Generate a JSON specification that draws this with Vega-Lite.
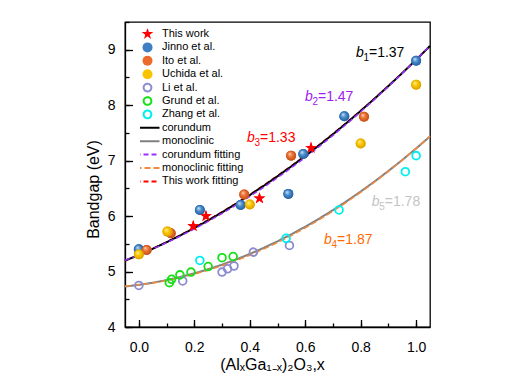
{
  "$schema": "https://vega.github.io/schema/vega-lite/v6.json",
  "width": 305,
  "height": 305,
  "autosize": "none",
  "padding": {"left": 125, "top": 22, "right": 91, "bottom": 59},
  "config": {
    "font": "Liberation Sans",
    "view": {"stroke": "#000", "strokeWidth": 1.3},
    "axis": {"domainColor": "#000", "tickColor": "#000", "labelColor": "#000", "titleColor": "#000", "grid": false, "labelFont": "Liberation Sans", "titleFont": "Liberation Sans", "titleFontWeight": "normal", "domainWidth": 1.3, "tickWidth": 1.3}
  },
  "datasets": {
    "pts": [
      {"series": "Jinno et al.", "x": 0.0, "y": 5.40},
      {"series": "Jinno et al.", "x": 0.22, "y": 6.11},
      {"series": "Jinno et al.", "x": 0.367, "y": 6.20},
      {"series": "Jinno et al.", "x": 0.539, "y": 6.40},
      {"series": "Jinno et al.", "x": 0.593, "y": 7.12},
      {"series": "Jinno et al.", "x": 0.741, "y": 7.80},
      {"series": "Jinno et al.", "x": 1.0, "y": 8.80},
      {"series": "Ito et al.", "x": 0.028, "y": 5.39},
      {"series": "Ito et al.", "x": 0.115, "y": 5.69},
      {"series": "Ito et al.", "x": 0.38, "y": 6.39},
      {"series": "Ito et al.", "x": 0.549, "y": 7.09},
      {"series": "Ito et al.", "x": 0.812, "y": 7.79},
      {"series": "Uchida et al.", "x": 0.0, "y": 5.31},
      {"series": "Uchida et al.", "x": 0.103, "y": 5.72},
      {"series": "Uchida et al.", "x": 0.40, "y": 6.21},
      {"series": "Uchida et al.", "x": 0.80, "y": 7.31},
      {"series": "Uchida et al.", "x": 1.0, "y": 8.37},
      {"series": "Li et al.", "x": 0.0, "y": 4.75},
      {"series": "Li et al.", "x": 0.158, "y": 4.83},
      {"series": "Li et al.", "x": 0.30, "y": 4.99},
      {"series": "Li et al.", "x": 0.32, "y": 5.05},
      {"series": "Li et al.", "x": 0.343, "y": 5.10},
      {"series": "Li et al.", "x": 0.413, "y": 5.35},
      {"series": "Li et al.", "x": 0.543, "y": 5.47},
      {"series": "Grund et al.", "x": 0.11, "y": 4.80},
      {"series": "Grund et al.", "x": 0.118, "y": 4.86},
      {"series": "Grund et al.", "x": 0.148, "y": 4.94},
      {"series": "Grund et al.", "x": 0.188, "y": 4.99},
      {"series": "Grund et al.", "x": 0.25, "y": 5.09},
      {"series": "Grund et al.", "x": 0.30, "y": 5.25},
      {"series": "Grund et al.", "x": 0.34, "y": 5.27},
      {"series": "Zhang et al.", "x": 0.22, "y": 5.20},
      {"series": "Zhang et al.", "x": 0.531, "y": 5.60},
      {"series": "Zhang et al.", "x": 0.722, "y": 6.11},
      {"series": "Zhang et al.", "x": 0.961, "y": 6.80},
      {"series": "Zhang et al.", "x": 1.0, "y": 7.09},
      {"series": "This work", "x": 0.196, "y": 5.82},
      {"series": "This work", "x": 0.242, "y": 6.00},
      {"series": "This work", "x": 0.435, "y": 6.32},
      {"series": "This work", "x": 0.621, "y": 7.23}
    ],
    "curves": [
      {"series": "corundum", "x": -0.05, "y": 5.196}, {"series": "corundum", "x": 0.0, "y": 5.30}, {"series": "corundum", "x": 0.05, "y": 5.411}, {"series": "corundum", "x": 0.1, "y": 5.529}, {"series": "corundum", "x": 0.15, "y": 5.653}, {"series": "corundum", "x": 0.2, "y": 5.785}, {"series": "corundum", "x": 0.25, "y": 5.923}, {"series": "corundum", "x": 0.3, "y": 6.068}, {"series": "corundum", "x": 0.35, "y": 6.220}, {"series": "corundum", "x": 0.4, "y": 6.379}, {"series": "corundum", "x": 0.45, "y": 6.545}, {"series": "corundum", "x": 0.5, "y": 6.718}, {"series": "corundum", "x": 0.55, "y": 6.897}, {"series": "corundum", "x": 0.6, "y": 7.083}, {"series": "corundum", "x": 0.65, "y": 7.276}, {"series": "corundum", "x": 0.7, "y": 7.476}, {"series": "corundum", "x": 0.75, "y": 7.683}, {"series": "corundum", "x": 0.8, "y": 7.897}, {"series": "corundum", "x": 0.85, "y": 8.117}, {"series": "corundum", "x": 0.9, "y": 8.345}, {"series": "corundum", "x": 0.95, "y": 8.579}, {"series": "corundum", "x": 1.0, "y": 8.82}, {"series": "corundum", "x": 1.05, "y": 9.068},
      {"series": "monoclinic", "x": -0.05, "y": 4.730}, {"series": "monoclinic", "x": 0.0, "y": 4.760}, {"series": "monoclinic", "x": 0.05, "y": 4.798}, {"series": "monoclinic", "x": 0.1, "y": 4.846}, {"series": "monoclinic", "x": 0.15, "y": 4.902}, {"series": "monoclinic", "x": 0.2, "y": 4.967}, {"series": "monoclinic", "x": 0.25, "y": 5.041}, {"series": "monoclinic", "x": 0.3, "y": 5.124}, {"series": "monoclinic", "x": 0.35, "y": 5.216}, {"series": "monoclinic", "x": 0.4, "y": 5.317}, {"series": "monoclinic", "x": 0.45, "y": 5.427}, {"series": "monoclinic", "x": 0.5, "y": 5.545}, {"series": "monoclinic", "x": 0.55, "y": 5.672}, {"series": "monoclinic", "x": 0.6, "y": 5.809}, {"series": "monoclinic", "x": 0.65, "y": 5.954}, {"series": "monoclinic", "x": 0.7, "y": 6.108}, {"series": "monoclinic", "x": 0.75, "y": 6.271}, {"series": "monoclinic", "x": 0.8, "y": 6.443}, {"series": "monoclinic", "x": 0.85, "y": 6.624}, {"series": "monoclinic", "x": 0.9, "y": 6.814}, {"series": "monoclinic", "x": 0.95, "y": 7.012}, {"series": "monoclinic", "x": 1.0, "y": 7.220}, {"series": "monoclinic", "x": 1.05, "y": 7.436},
      {"series": "corundum fitting", "x": -0.05, "y": 5.201}, {"series": "corundum fitting", "x": 0.0, "y": 5.30}, {"series": "corundum fitting", "x": 0.05, "y": 5.406}, {"series": "corundum fitting", "x": 0.1, "y": 5.520}, {"series": "corundum fitting", "x": 0.15, "y": 5.641}, {"series": "corundum fitting", "x": 0.2, "y": 5.769}, {"series": "corundum fitting", "x": 0.25, "y": 5.904}, {"series": "corundum fitting", "x": 0.3, "y": 6.047}, {"series": "corundum fitting", "x": 0.35, "y": 6.198}, {"series": "corundum fitting", "x": 0.4, "y": 6.355}, {"series": "corundum fitting", "x": 0.45, "y": 6.520}, {"series": "corundum fitting", "x": 0.5, "y": 6.693}, {"series": "corundum fitting", "x": 0.55, "y": 6.872}, {"series": "corundum fitting", "x": 0.6, "y": 7.059}, {"series": "corundum fitting", "x": 0.65, "y": 7.254}, {"series": "corundum fitting", "x": 0.7, "y": 7.455}, {"series": "corundum fitting", "x": 0.75, "y": 7.664}, {"series": "corundum fitting", "x": 0.8, "y": 7.881}, {"series": "corundum fitting", "x": 0.85, "y": 8.105}, {"series": "corundum fitting", "x": 0.9, "y": 8.336}, {"series": "corundum fitting", "x": 0.95, "y": 8.574}, {"series": "corundum fitting", "x": 1.0, "y": 8.82}, {"series": "corundum fitting", "x": 1.05, "y": 9.073},
      {"series": "monoclinic fitting", "x": -0.05, "y": 4.735}, {"series": "monoclinic fitting", "x": 0.0, "y": 4.760}, {"series": "monoclinic fitting", "x": 0.05, "y": 4.794}, {"series": "monoclinic fitting", "x": 0.1, "y": 4.838}, {"series": "monoclinic fitting", "x": 0.15, "y": 4.891}, {"series": "monoclinic fitting", "x": 0.2, "y": 4.953}, {"series": "monoclinic fitting", "x": 0.25, "y": 5.024}, {"series": "monoclinic fitting", "x": 0.3, "y": 5.105}, {"series": "monoclinic fitting", "x": 0.35, "y": 5.196}, {"series": "monoclinic fitting", "x": 0.4, "y": 5.295}, {"series": "monoclinic fitting", "x": 0.45, "y": 5.404}, {"series": "monoclinic fitting", "x": 0.5, "y": 5.523}, {"series": "monoclinic fitting", "x": 0.55, "y": 5.650}, {"series": "monoclinic fitting", "x": 0.6, "y": 5.787}, {"series": "monoclinic fitting", "x": 0.65, "y": 5.934}, {"series": "monoclinic fitting", "x": 0.7, "y": 6.089}, {"series": "monoclinic fitting", "x": 0.75, "y": 6.254}, {"series": "monoclinic fitting", "x": 0.8, "y": 6.429}, {"series": "monoclinic fitting", "x": 0.85, "y": 6.613}, {"series": "monoclinic fitting", "x": 0.9, "y": 6.806}, {"series": "monoclinic fitting", "x": 0.95, "y": 7.008}, {"series": "monoclinic fitting", "x": 1.0, "y": 7.220}, {"series": "monoclinic fitting", "x": 1.05, "y": 7.441},
      {"series": "This work fitting", "x": -0.05, "y": 5.194}, {"series": "This work fitting", "x": 0.0, "y": 5.30}, {"series": "This work fitting", "x": 0.05, "y": 5.413}, {"series": "This work fitting", "x": 0.1, "y": 5.532}, {"series": "This work fitting", "x": 0.15, "y": 5.658}, {"series": "This work fitting", "x": 0.2, "y": 5.791}, {"series": "This work fitting", "x": 0.25, "y": 5.931}, {"series": "This work fitting", "x": 0.3, "y": 6.077}, {"series": "This work fitting", "x": 0.35, "y": 6.229}, {"series": "This work fitting", "x": 0.4, "y": 6.389}, {"series": "This work fitting", "x": 0.45, "y": 6.555}, {"series": "This work fitting", "x": 0.5, "y": 6.728}, {"series": "This work fitting", "x": 0.55, "y": 6.907}, {"series": "This work fitting", "x": 0.6, "y": 7.093}, {"series": "This work fitting", "x": 0.65, "y": 7.285}, {"series": "This work fitting", "x": 0.7, "y": 7.485}, {"series": "This work fitting", "x": 0.75, "y": 7.691}, {"series": "This work fitting", "x": 0.8, "y": 7.903}, {"series": "This work fitting", "x": 0.85, "y": 8.122}, {"series": "This work fitting", "x": 0.9, "y": 8.348}, {"series": "This work fitting", "x": 0.95, "y": 8.581}, {"series": "This work fitting", "x": 1.0, "y": 8.82}, {"series": "This work fitting", "x": 1.05, "y": 9.066}
    ],
    "ann": [
      {"key": "b1", "x": 0.783, "y": 8.86, "sub": "1", "val": "=1.37"},
      {"key": "b2", "x": 0.599, "y": 8.07, "sub": "2", "val": "=1.47"},
      {"key": "b3", "x": 0.39, "y": 7.33, "sub": "3", "val": "=1.33"},
      {"key": "b4", "x": 0.668, "y": 5.49, "sub": "4", "val": "=1.87"},
      {"key": "b5", "x": 0.84, "y": 6.18, "sub": "5", "val": "=1.78"}
    ]
  },
  "encoding": {
    "x": {"field": "x", "type": "quantitative", "scale": {"domain": [-0.05, 1.05], "nice": false, "zero": false}, "axis": null},
    "y": {"field": "y", "type": "quantitative", "scale": {"domain": [4, 9.5], "nice": false, "zero": false}, "axis": null}
  },
  "layer": [
    {
      "data": {"name": "curves"},
      "transform": [{"filter": "datum.series === 'This work fitting'"}],
      "mark": {"type": "line", "strokeWidth": 1.5},
      "encoding": {
        "x": {"field": "x", "type": "quantitative", "scale": {"domain": [-0.05, 1.05], "nice": false, "zero": false},
              "axis": {"orient": "bottom", "values": [0, 0.1, 0.2, 0.3, 0.4, 0.5, 0.6, 0.7, 0.8, 0.9, 1.0], "labels": false, "domain": false, "tickSize": -4, "title": null}},
        "y": {"field": "y", "type": "quantitative", "scale": {"domain": [4, 9.5], "nice": false, "zero": false},
              "axis": {"orient": "left", "values": [4, 4.5, 5, 5.5, 6, 6.5, 7, 7.5, 8, 8.5, 9, 9.5], "labels": false, "domain": false, "tickSize": -4, "title": null}},
        "stroke": {"field": "series", "type": "nominal",
          "scale": {"domain": ["This work", "Jinno et al.", "Ito et al.", "Uchida et al.", "Li et al.", "Grund et al.", "Zhang et al.", "corundum", "monoclinic", "corundum fitting", "monoclinic fitting", "This work fitting"],
                    "range": ["transparent", "transparent", "transparent", "transparent", "#8c8cd0", "#18e018", "#00eeee", "#000000", "#808080", "#9b30ff", "#f08a40", "#ff0000"]}},
        "strokeDash": {"field": "series", "type": "nominal",
          "scale": {"domain": ["This work", "Jinno et al.", "Ito et al.", "Uchida et al.", "Li et al.", "Grund et al.", "Zhang et al.", "corundum", "monoclinic", "corundum fitting", "monoclinic fitting", "This work fitting"],
                    "range": [[1, 0], [1, 0], [1, 0], [1, 0], [1, 0], [1, 0], [1, 0], [1, 0], [1, 0], [5, 3], [6, 3], [5, 3]]}}
      }
    },
    {
      "data": {"name": "curves"},
      "transform": [{"filter": {"field": "series", "oneOf": ["corundum", "monoclinic"]}}],
      "mark": {"type": "line", "strokeWidth": 2},
      "encoding": {
        "stroke": {"field": "series", "type": "nominal"},
        "strokeDash": {"field": "series", "type": "nominal"}
      }
    },
    {
      "data": {"name": "curves"},
      "transform": [{"filter": {"field": "series", "oneOf": ["corundum fitting", "monoclinic fitting"]}}],
      "mark": {"type": "line", "strokeWidth": 1.5},
      "encoding": {
        "stroke": {"field": "series", "type": "nominal"},
        "strokeDash": {"field": "series", "type": "nominal"}
      }
    },
    {
      "data": {"name": "pts"},
      "mark": {"type": "point", "filled": true, "opacity": 1, "strokeWidth": 1.8},
      "encoding": {
        "x": {"field": "x", "type": "quantitative", "scale": {"domain": [-0.05, 1.05], "nice": false, "zero": false},
              "axis": {"orient": "bottom", "values": [0, 0.2, 0.4, 0.6, 0.8, 1.0], "format": ".1f", "labelFontSize": 14, "tickSize": -7.5, "labelPadding": 20.5, "title": "(AlₓGa₁₋ₓ)₂O₃,x", "titleFontSize": 16, "titlePadding": 2, "titleX": 147}},
        "y": {"field": "y", "type": "quantitative", "scale": {"domain": [4, 9.5], "nice": false, "zero": false},
              "axis": {"orient": "left", "values": [4, 5, 6, 7, 8, 9], "format": "d", "labelFontSize": 14, "tickSize": -7.5, "labelPadding": 17.5, "title": "Bandgap (eV)", "titleFontSize": 16, "titlePadding": 6, "titleY": 167}},
        "fill": {"field": "series", "type": "nominal",
          "scale": {"domain": ["This work", "Jinno et al.", "Ito et al.", "Uchida et al.", "Li et al.", "Grund et al.", "Zhang et al.", "corundum", "monoclinic", "corundum fitting", "monoclinic fitting", "This work fitting"],
                    "range": ["#ff0000", "#3d7fc2", "#ec6a2c", "#f9c300", "transparent", "transparent", "transparent", "transparent", "transparent", "transparent", "transparent", "transparent"]},
          "legend": {"orient": "none", "legendX": 15, "legendY": 6.5, "title": null, "padding": 0, "rowPadding": 1.4, "clipHeight": 11, "labelFontSize": 11, "labelFont": "Liberation Sans", "labelColor": "#000", "labelOffset": 7, "labelLimit": 200, "symbolStrokeWidth": 2}},
        "stroke": {"field": "series", "type": "nominal"},
        "shape": {"field": "series", "type": "nominal",
          "scale": {"domain": ["This work", "Jinno et al.", "Ito et al.", "Uchida et al.", "Li et al.", "Grund et al.", "Zhang et al.", "corundum", "monoclinic", "corundum fitting", "monoclinic fitting", "This work fitting"],
                    "range": ["M0,-1L0.2245,-0.309L0.951,-0.309L0.363,0.118L0.588,0.809L0,0.382L-0.588,0.809L-0.363,0.118L-0.951,-0.309L-0.2245,-0.309Z", "circle", "circle", "circle", "circle", "circle", "circle", "M-3,0L3,0", "M-3,0L3,0", "M-3,0L3,0", "M-3,0L3,0", "M-3,0L3,0"]}},
        "size": {"field": "series", "type": "nominal",
          "scale": {"type": "ordinal", "domain": ["This work", "Jinno et al.", "Ito et al.", "Uchida et al.", "Li et al.", "Grund et al.", "Zhang et al.", "corundum", "monoclinic", "corundum fitting", "monoclinic fitting", "This work fitting"],
                    "range": [150, 100, 100, 100, 60, 60, 60, 64, 64, 64, 64, 64]}}
      }
    },
    {
      "data": {"name": "pts"},
      "transform": [{"filter": "datum.series === 'Jinno et al.'"}],
      "mark": {"type": "point", "shape": "circle", "size": 100, "opacity": 1, "strokeWidth": 0,
               "fill": {"gradient": "radial", "x1": 0.35, "y1": 0.3, "r1": 0, "x2": 0.5, "y2": 0.5, "r2": 0.55, "stops": [{"offset": 0, "color": "#d6e8f8"}, {"offset": 0.45, "color": "#4a8ccc"}, {"offset": 1, "color": "#1e5a98"}]}}
    },
    {
      "data": {"name": "pts"},
      "transform": [{"filter": "datum.series === 'Ito et al.'"}],
      "mark": {"type": "point", "shape": "circle", "size": 100, "opacity": 1, "strokeWidth": 0,
               "fill": {"gradient": "radial", "x1": 0.35, "y1": 0.3, "r1": 0, "x2": 0.5, "y2": 0.5, "r2": 0.55, "stops": [{"offset": 0, "color": "#fbd3b8"}, {"offset": 0.45, "color": "#ee7232"}, {"offset": 1, "color": "#b84a14"}]}}
    },
    {
      "data": {"name": "pts"},
      "transform": [{"filter": "datum.series === 'Uchida et al.'"}],
      "mark": {"type": "point", "shape": "circle", "size": 100, "opacity": 1, "strokeWidth": 0,
               "fill": {"gradient": "radial", "x1": 0.35, "y1": 0.3, "r1": 0, "x2": 0.5, "y2": 0.5, "r2": 0.55, "stops": [{"offset": 0, "color": "#fff2a8"}, {"offset": 0.45, "color": "#fbc800"}, {"offset": 1, "color": "#d49a00"}]}}
    },
    {
      "data": {"name": "pts"},
      "transform": [{"filter": "datum.series === 'This work'"}],
      "mark": {"type": "point", "shape": "M0,-1L0.2245,-0.309L0.951,-0.309L0.363,0.118L0.588,0.809L0,0.382L-0.588,0.809L-0.363,0.118L-0.951,-0.309L-0.2245,-0.309Z", "size": 150, "opacity": 1, "strokeWidth": 0, "filled": true, "fill": "#ff0000"}
    },
    {
      "data": {"name": "ann"},
      "mark": {"type": "text", "text": "b", "fontStyle": "italic", "fontSize": 14, "align": "left", "baseline": "alphabetic"},
      "encoding": {
        "color": {"field": "key", "type": "nominal", "legend": null,
          "scale": {"domain": ["b1", "b2", "b3", "b4", "b5"], "range": ["#000000", "#a020f0", "#ff0000", "#ff6a00", "#c4c4c4"]}}
      }
    },
    {
      "data": {"name": "ann"},
      "mark": {"type": "text", "fontSize": 10, "align": "left", "baseline": "alphabetic", "dx": 7.5, "dy": 4},
      "encoding": {
        "text": {"field": "sub"},
        "color": {"field": "key", "type": "nominal", "legend": null}
      }
    },
    {
      "data": {"name": "ann"},
      "mark": {"type": "text", "fontSize": 14, "align": "left", "baseline": "alphabetic", "dx": 13},
      "encoding": {
        "text": {"field": "val"},
        "color": {"field": "key", "type": "nominal", "legend": null}
      }
    }
  ],
  "resolve": {"axis": {"x": "independent", "y": "independent"}}
}
